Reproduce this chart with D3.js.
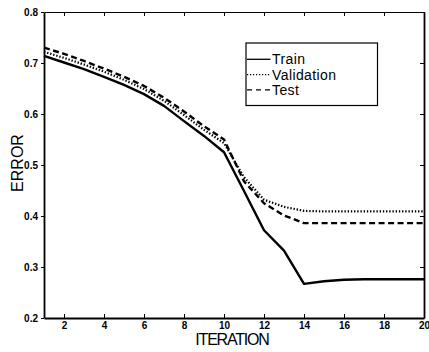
<!DOCTYPE html>
<html>
<head>
<meta charset="utf-8">
<script src="https://cdn.jsdelivr.net/npm/d3@7/dist/d3.min.js"></script>
<style>
  html, body { margin: 0; padding: 0; background: #fff; }
  svg { display: block; }
  text { font-family: "Liberation Sans", Arial, Helvetica, sans-serif; fill: #000; }
</style>
</head>
<body>
<svg id="chart" width="429" height="352"></svg>
<script>
// Error per training iteration for three data splits
const iterations = d3.range(1, 21);
const trainError = [0.714, 0.701, 0.688, 0.673, 0.657, 0.639, 0.616, 0.586, 0.557, 0.525,
                    0.449, 0.372, 0.332, 0.267, 0.272, 0.275, 0.276, 0.276, 0.276, 0.276];
const validationError = [0.722, 0.710, 0.697, 0.683, 0.667, 0.649, 0.626, 0.598, 0.569, 0.543,
                         0.476, 0.432, 0.418, 0.410, 0.409, 0.409, 0.409, 0.409, 0.409, 0.409];
const testError = [0.730, 0.718, 0.704, 0.689, 0.673, 0.655, 0.632, 0.605, 0.576, 0.550,
                   0.468, 0.425, 0.401, 0.386, 0.386, 0.386, 0.386, 0.386, 0.386, 0.386];
const seriesNames = ["Train", "Validation", "Test"];
const xTicks = [2, 4, 6, 8, 10, 12, 14, 16, 18, 20];
const yTicks = [0.2, 0.3, 0.4, 0.5, 0.6, 0.7, 0.8];

const svg = d3.select("#chart");
const plotLeft = 44, plotRight = 424, plotTop = 12, plotBottom = 318;

const x = d3.scaleLinear().domain([1, 20]).range([plotLeft, plotRight]);
const y = d3.scaleLinear().domain([0.2, 0.8]).range([plotBottom, plotTop]);

const series = [
  { name: seriesNames[0], values: trainError, dash: null, width: 2.4 },
  { name: seriesNames[1], values: validationError, dash: "1.4,1.8", width: 2.2 },
  { name: seriesNames[2], values: testError, dash: "6,3.5", width: 2.4 }
];

// Frame: top and right mirror axes (ticks only, inward)
svg.append("g")
  .attr("transform", `translate(0,${plotTop})`)
  .call(d3.axisTop(x).tickValues(xTicks).tickSize(-4).tickSizeOuter(0).tickFormat(""))
  .call(g => g.select(".domain").attr("stroke-width", 1));

svg.append("g")
  .attr("transform", `translate(${plotRight},0)`)
  .call(d3.axisRight(y).tickValues(yTicks).tickSize(-4).tickSizeOuter(0).tickFormat(""))
  .call(g => g.select(".domain").attr("stroke-width", 1.8));

// Bottom axis
svg.append("g")
  .attr("transform", `translate(0,${plotBottom})`)
  .call(d3.axisBottom(x).tickValues(xTicks).tickSize(-4).tickSizeOuter(0).tickPadding(4))
  .call(g => g.select(".domain").attr("stroke-width", 1.8))
  .call(g => g.selectAll("text")
    .attr("font-size", 10).attr("font-weight", "bold")
    .attr("font-family", "Liberation Sans, Arial, sans-serif"));

// Left axis
svg.append("g")
  .attr("transform", `translate(${plotLeft},0)`)
  .call(d3.axisLeft(y).tickValues(yTicks).tickSize(3).tickSizeOuter(0).tickPadding(3)
    .tickFormat(d3.format(".1f")))
  .call(g => g.select(".domain").attr("stroke-width", 1.8))
  .call(g => g.selectAll("text")
    .attr("font-size", 10).attr("font-weight", "bold")
    .attr("font-family", "Liberation Sans, Arial, sans-serif"));

// Axis titles
svg.append("text")
  .attr("x", 232).attr("y", 344.5)
  .attr("text-anchor", "middle")
  .attr("font-size", 16)
  .attr("letter-spacing", "-1.2px")
  .text("ITERATION");

svg.append("text")
  .attr("transform", "translate(23,163) rotate(-90)")
  .attr("text-anchor", "middle")
  .attr("font-size", 16)
  .text("ERROR");

// Curves
const line = d3.line()
  .x((d, i) => x(iterations[i]))
  .y(d => y(d));

svg.append("g").selectAll("path")
  .data(series)
  .join("path")
  .attr("d", s => line(s.values))
  .attr("fill", "none")
  .attr("stroke", "#000")
  .attr("stroke-width", s => s.width)
  .attr("stroke-dasharray", s => s.dash)
  .attr("stroke-linejoin", "round");

// Legend
const legend = svg.append("g");
legend.append("rect")
  .attr("x", 246).attr("y", 43)
  .attr("width", 131.5).attr("height", 62.5)
  .attr("fill", "#fff").attr("stroke", "#000").attr("stroke-width", 1.2);

const legendRows = legend.selectAll("g.row")
  .data(series)
  .join("g")
  .attr("class", "row")
  .attr("transform", (d, i) => `translate(0,${64.3 + i * 15.3})`);

legendRows.append("line")
  .attr("x1", 247).attr("x2", 270.5)
  .attr("y1", -5).attr("y2", -5)
  .attr("stroke", "#000")
  .attr("stroke-width", s => s.dash ? 1.4 : 1.3)
  .attr("stroke-dasharray", s => s.dash === null ? null : (s.name === "Test" ? "5,4" : "1.2,1.8"));

legendRows.append("text")
  .attr("x", 272).attr("y", 0)
  .attr("font-size", 14)
  .attr("letter-spacing", "0.4px")
  .text(s => s.name);
</script>
</body>
</html>
